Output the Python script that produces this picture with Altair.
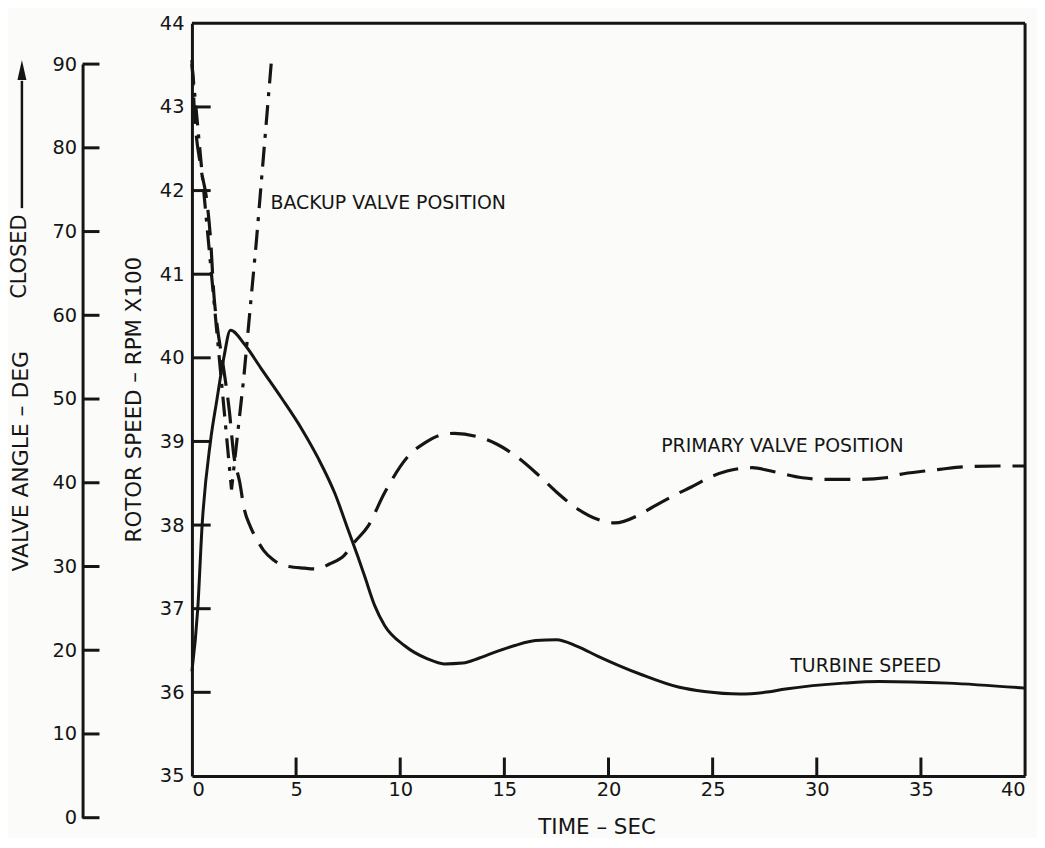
import altair as alt
import pandas as pd

# ---------------- data ----------------
turbine_t = [0, 0.28, 0.49, 0.89, 1.2, 1.53, 1.85, 2.56, 3.3, 4.3, 5.27, 6.06, 6.86,
             7.49, 7.97, 8.29, 8.77, 9.25, 10.2, 11.31, 12.11, 13.0, 13.8, 14.65, 15.5,
             16.5, 17.5, 18.5, 19.5, 20.5, 21.6, 23.4, 24.6, 26.3, 27.5, 28.5,
             31.3, 33.0, 36.3, 40]
turbine_rpm = [36.25, 37.0, 38.0, 39.0, 39.5, 40.0, 40.33, 40.15, 39.88, 39.52, 39.15, 38.8, 38.38,
               37.95, 37.62, 37.39, 37.04, 36.8, 36.56, 36.40, 36.34, 36.35, 36.41, 36.49, 36.56,
               36.62, 36.63, 36.55, 36.43, 36.32, 36.21, 36.06, 36.01, 35.98, 36.00, 36.04,
               36.11, 36.13, 36.11, 36.05]

primary_t = [0, 0.05, 0.1, 0.43, 0.72, 0.9, 1.05, 1.2, 1.5, 1.8, 2.0, 2.3, 2.5, 2.8, 3.1, 3.45,
             3.9, 4.45, 5.4, 6.0, 6.6, 7.3, 7.8, 8.45, 9.25, 10.36, 11.2, 11.95, 12.6, 13.7,
             14.65, 15.6, 16.6, 17.5, 18.5, 19.5, 20.3, 21.5, 22.2, 23.4, 23.9,
             25.0, 25.7, 26.9, 27.8, 29.3, 30.5, 32.0, 33.3, 34.0, 35.2, 35.9, 37.0, 38.7, 40]
primary_deg = [90.5, 88, 85.2, 77.6, 73.6, 68.9, 62.6, 59.0, 54, 48.5, 43.5, 40, 37, 34.8, 33.3, 31.9,
               30.8, 30.1, 29.8, 29.7, 30.3, 31.3, 32.9, 34.8, 38.8, 43.1, 44.8, 45.7, 45.9, 45.5,
               44.6, 43.1, 41.0, 38.9, 36.9, 35.6, 35.2, 36.2, 37.2, 38.8, 39.4,
               40.8, 41.4, 41.8, 41.4, 40.6, 40.4, 40.4, 40.6, 41.0, 41.4, 41.6, 41.9, 42.0, 42.0]

backup_t = [0, 1.9, 2.48, 3.1, 3.82]
backup_deg = [90, 39.2, 52.3, 69, 90.5]

time_ticks = [0, 5, 10, 15, 20, 25, 30, 35, 40]
rpm_ticks = [35, 36, 37, 38, 39, 40, 41, 42, 43, 44]
deg_ticks = [0, 10, 20, 30, 40, 50, 60, 70, 80, 90]

label_text = ["BACKUP VALVE POSITION", "PRIMARY VALVE POSITION", "TURBINE SPEED"]
label_t = [3.77, 22.53, 28.73]
label_rpm = [41.85, 38.94, 36.32]

# ---------------- styling ----------------
W, H = 838, 799
FONT = "DejaVu Sans"
INK = "#151515"
LBL = 19.5
TTL = 21.5

xscale = alt.Scale(domain=[0, 40], nice=False, zero=False)
x_axis = alt.Axis(values=time_ticks, ticks=False, grid=False, offset=-42,
                  domainWidth=3, domainColor=INK, labelPadding=5,
                  labelFont=FONT, labelFontSize=LBL, labelColor=INK,
                  title="TIME – SEC", titleFont=FONT, titleFontSize=TTL,
                  titleFontWeight="normal", titleColor=INK,
                  titleX=407, titleY=52, titleBaseline="middle")

rotor_scale = alt.Scale(domain=[35, 44], range=[757, 0], nice=False, zero=False)
rotor_axis = alt.Axis(orient="left", values=rpm_ticks, ticks=False, grid=False,
                      domainWidth=3, domainColor=INK, labelPadding=8,
                      labelFont=FONT, labelFontSize=LBL, labelColor=INK,
                      title="ROTOR SPEED – RPM X100", titleFont=FONT, titleFontSize=TTL,
                      titleFontWeight="normal", titleColor=INK,
                      titleX=-58, titleY=378, titleBaseline="middle")

valve_scale = alt.Scale(domain=[0, 90], range=[799, 41], nice=False, zero=False)
valve_axis = alt.Axis(orient="left", values=deg_ticks, ticks=False, grid=False, offset=110,
                      domainWidth=3, domainColor=INK, labelPadding=6,
                      labelFont=FONT, labelFontSize=LBL, labelColor=INK,
                      title="VALVE ANGLE – DEG", titleFont=FONT, titleFontSize=TTL + 0.5,
                      titleFontWeight="normal", titleColor=INK,
                      titleX=-62, titleY=440, titleBaseline="middle")


def X(field="t"):
    return alt.X(f"{field}:Q", scale=xscale, axis=x_axis)


def YR(field="rpm"):
    return alt.Y(f"{field}:Q", scale=rotor_scale, axis=rotor_axis)


def YV(field="deg"):
    return alt.Y(f"{field}:Q", scale=valve_scale, axis=valve_axis)


turb_df = pd.DataFrame({"t": turbine_t, "rpm": turbine_rpm})
prim_df = pd.DataFrame({"t": primary_t, "deg": primary_deg})
back_df = pd.DataFrame({"t": backup_t, "deg": backup_deg})
lab_df = pd.DataFrame({"t": label_t, "rpm": label_rpm, "label": label_text})

# ---------------- rotor-speed group ----------------
turbine = alt.Chart(turb_df).mark_line(color=INK, strokeWidth=3, interpolate="monotone").encode(
    x=X(), y=YR(), order="t:Q")

frame_top = alt.Chart(pd.DataFrame({"t": [0], "t2": [40], "rpm": [44]})).mark_rule(
    color=INK, strokeWidth=3).encode(x=X(), x2="t2:Q", y=YR())
frame_right = alt.Chart(pd.DataFrame({"t": [40], "rpm": [35], "rpm2": [44]})).mark_rule(
    color=INK, strokeWidth=3).encode(x=X(), y=YR(), y2="rpm2:Q")

# inward tick marks (length expressed in axis units)
rpm_tick_df = pd.DataFrame({"rpm": rpm_ticks[1:-1]})
rpm_tick_df["t"] = 0.0
rpm_tick_df["t2"] = 0.9
rpm_tick_marks = alt.Chart(rpm_tick_df).mark_rule(color=INK, strokeWidth=3).encode(
    y=YR(), x=X(), x2="t2:Q")

time_tick_df = pd.DataFrame({"t": time_ticks[1:-1]})
time_tick_df["rpm"] = 35.0
time_tick_df["rpm2"] = 35.22
time_tick_marks = alt.Chart(time_tick_df).mark_rule(color=INK, strokeWidth=3).encode(
    x=X(), y=YR(), y2="rpm2:Q")

labels = alt.Chart(lab_df).mark_text(align="left", baseline="middle", font=FONT,
                                      fontSize=19, color=INK).encode(
    x=X(), y=YR(), text="label:N")

rotor_group = alt.layer(frame_top, frame_right, rpm_tick_marks, time_tick_marks,
                        turbine, labels)

# ---------------- valve-angle group ----------------
primary = alt.Chart(prim_df).mark_line(color=INK, strokeWidth=3.2, strokeDash=[26, 12],
                                       interpolate="monotone").encode(
    x=X(), y=YV(), order="t:Q")
backup = alt.Chart(back_df).mark_line(color=INK, strokeWidth=3.2,
                                      strokeDash=[20, 9, 4, 9]).encode(
    x=X(), y=YV(), order="t:Q")

deg_tick_marks = alt.Chart(pd.DataFrame({"deg": deg_ticks})).mark_rule(
    color=INK, strokeWidth=3).encode(y=YV(), x=alt.value(-110), x2=alt.value(-93))

arrow_shaft = alt.Chart(pd.DataFrame({"deg": [72.8], "deg2": [88.0]})).mark_rule(
    color=INK, strokeWidth=2.5).encode(y=YV(), y2="deg2:Q", x=alt.value(-171))
arrow_head = alt.Chart(pd.DataFrame({"deg": [89.3]})).mark_point(
    shape="M0,-1L0.45,1L-0.45,1Z", size=400, filled=True, color=INK, opacity=1,
    strokeWidth=0).encode(y=YV(), x=alt.value(-171))
closed = alt.Chart(pd.DataFrame({"deg": [67.0], "label": ["CLOSED"]})).mark_text(
    angle=270, align="center", baseline="middle", font=FONT, fontSize=21,
    color=INK).encode(y=YV(), x=alt.value(-173), text="label:N")

valve_group = alt.layer(deg_tick_marks, arrow_shaft, arrow_head, closed, primary, backup)

chart = alt.layer(rotor_group, valve_group).resolve_scale(y="independent").properties(
    width=W, height=H,
    autosize=alt.AutoSizeParams(type="none"),
    padding={"left": 185, "top": 13, "right": 12, "bottom": 18},
    background="#fbfbf9",
).configure_view(stroke=None)

chart.save("out.html", embed_options={"renderer": "svg", "actions": False})
